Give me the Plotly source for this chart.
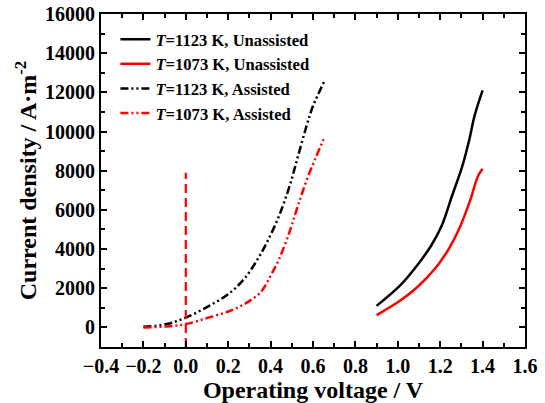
import plotly.graph_objects as go

# Data
v_1123_un = [0.90, 1.01, 1.09, 1.157, 1.207, 1.256, 1.305, 1.338, 1.362, 1.40]
j_1123_un = [1100, 2130, 3150, 4170, 5190, 6720, 8260, 9620, 10800, 12100]

v_1073_un = [0.90, 1.01, 1.09, 1.174, 1.24, 1.289, 1.338, 1.379, 1.40]
j_1073_un = [630, 1360, 2040, 2980, 4000, 5020, 6380, 7740, 8100]

v_1123_as = [-0.20, -0.09, 0.0, 0.11, 0.20, 0.275, 0.34, 0.39, 0.44, 0.49, 0.53, 0.57, 0.60, 0.655]
j_1123_as = [30, 170, 500, 1100, 1700, 2470, 3500, 4500, 5700, 7230, 8770, 10300, 11300, 12600]

v_1073_as = [-0.20, -0.09, 0.0, 0.11, 0.21, 0.29, 0.355, 0.40, 0.44, 0.49, 0.53, 0.58, 0.65]
j_1073_as = [0, 50, 170, 510, 850, 1280, 1820, 2640, 3490, 4900, 6250, 7800, 9600]

v_zero = [0.0, 0.0]
j_zero = [-1000, 7900]

names = ["<i>T</i>=1123 K, Unassisted", "<i>T</i>=1073 K, Unassisted",
         "<i>T</i>=1123 K, Assisted", "<i>T</i>=1073 K, Assisted"]

FONT = "Liberation Serif"
dashdot = "8px,3px,2px,3px,2px,3px"

fig = go.Figure()
fig.add_trace(go.Scatter(x=v_1123_un, y=j_1123_un, mode="lines", name=names[0],
                         line=dict(color="black", width=2.5, shape="spline")))
fig.add_trace(go.Scatter(x=v_1073_un, y=j_1073_un, mode="lines", name=names[1],
                         line=dict(color="red", width=2.5, shape="spline")))
fig.add_trace(go.Scatter(x=v_1123_as, y=j_1123_as, mode="lines", name=names[2],
                         line=dict(color="black", width=2.5, dash=dashdot, shape="spline")))
fig.add_trace(go.Scatter(x=v_1073_as, y=j_1073_as, mode="lines", name=names[3],
                         line=dict(color="red", width=2.5, dash=dashdot, shape="spline")))
fig.add_trace(go.Scatter(x=v_zero, y=j_zero, mode="lines", showlegend=False,
                         line=dict(color="red", width=2.2, dash="9px,5px")))

axis_common = dict(showgrid=False, zeroline=False, showline=True, linecolor="black",
                   linewidth=2, mirror="allticks", ticks="inside", ticklen=6,
                   tickwidth=2, tickcolor="black", automargin=False,
                   tickfont=dict(family=FONT, size=20, color="black", weight="bold"))

fig.update_xaxes(range=[-0.4, 1.6], tick0=-0.4, dtick=0.2, tickformat=".1f",
                 minor=dict(dtick=0.1, ticks="inside", ticklen=4, tickwidth=2, tickcolor="black"),
                 title=dict(text="Operating voltage / V", standoff=0,
                            font=dict(family=FONT, size=24, color="black", weight="bold")),
                 **axis_common)
fig.update_yaxes(range=[-1000, 16000], tick0=0, dtick=2000, tickformat="d",
                 minor=dict(dtick=1000, ticks="inside", ticklen=4, tickwidth=2, tickcolor="black"),
                 title=dict(text="Current density / A·m<sup>-2</sup>", standoff=2,
                            font=dict(family=FONT, size=24, color="black", weight="bold")),
                 **axis_common)

fig.update_layout(
    width=545, height=403,
    margin=dict(l=101, r=20, t=14, b=56),
    paper_bgcolor="white", plot_bgcolor="white",
    font=dict(family=FONT, size=17, color="black", weight="bold"),
    legend=dict(x=0.034, y=0.976, xanchor="left", yanchor="top",
                bgcolor="rgba(0,0,0,0)", borderwidth=0, tracegroupgap=0,
                font=dict(family=FONT, size=16.6, color="black", weight="bold")),
    showlegend=True,
)

fig.write_html("out.html")
